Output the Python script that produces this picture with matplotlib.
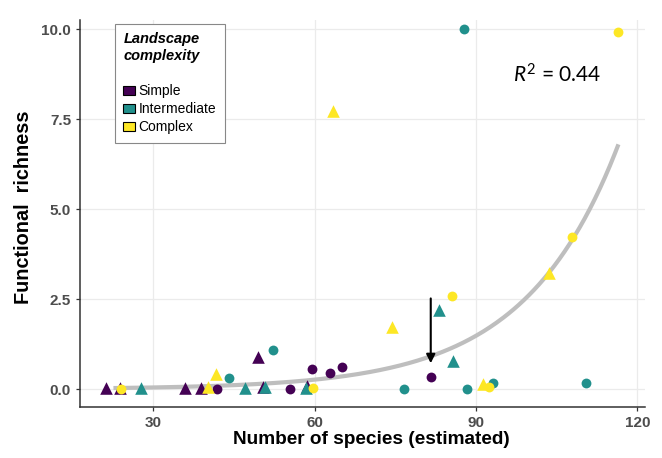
import numpy as np
import matplotlib
matplotlib.use("Agg")
import matplotlib.pyplot as plt
from matplotlib.patches import Patch

# =========================
# DATA
# =========================
simple_circle_x = [41.9, 55.4, 59.5, 62.9, 65.1, 81.6]
simple_circle_y = [0.00, 0.00, 0.57, 0.44, 0.62, 0.35]
simple_tri_x = [21.3, 23.9, 35.9, 38.9, 49.5, 50.5, 58.6]
simple_tri_y = [0.02, 0.02, 0.02, 0.02, 0.88, 0.05, 0.10]

inter_circle_x = [44.1, 52.3, 76.6, 88.3, 93.2, 110.4, 87.8]
inter_circle_y = [0.30, 1.10, 0.00, 0.00, 0.16, 0.16, 10.0]
inter_tri_x = [27.8, 47.1, 50.8, 58.4, 83.1, 85.8]
inter_tri_y = [0.02, 0.02, 0.05, 0.02, 2.20, 0.77]

complex_circle_x = [24.0, 59.7, 85.6, 92.4, 107.8, 116.4]
complex_circle_y = [0.00, 0.02, 2.58, 0.06, 4.24, 9.92]
complex_tri_x = [40.2, 41.7, 63.4, 74.4, 91.3, 103.6]
complex_tri_y = [0.05, 0.42, 7.73, 1.74, 0.13, 3.24]

# fitted exponential model y = a * exp(b * x)
fit_a = 0.00838
fit_b = 0.0575
fit_xmin, fit_xmax = 22.6, 116.5

arrow_x = 81.6
arrow_y_start = 2.52
arrow_y_end = 0.72

r2_text = "0.44"

colors = {"Simple": "#440154", "Intermediate": "#21908C", "Complex": "#FDE725"}

# =========================
# PLOT
# =========================
plt.rcParams['font.family'] = ['Liberation Sans', 'DejaVu Sans']
plt.rcParams['mathtext.fontset'] = 'custom'
plt.rcParams['mathtext.rm'] = 'Lato'
plt.rcParams['mathtext.it'] = 'Lato:italic'

fig = plt.figure(figsize=(6.62, 4.58), dpi=100)
ax = fig.add_axes([0.121, 0.111, 0.853, 0.845])

xs = np.linspace(fit_xmin, fit_xmax, 300)
ax.plot(xs, fit_a * np.exp(fit_b * xs), color="#BEBEBE", lw=3, zorder=2,
        solid_capstyle="butt")

groups = [
    ("Simple", simple_circle_x, simple_circle_y, simple_tri_x, simple_tri_y),
    ("Intermediate", inter_circle_x, inter_circle_y, inter_tri_x, inter_tri_y),
    ("Complex", complex_circle_x, complex_circle_y, complex_tri_x, complex_tri_y),
]
for name, cx, cy, tx, ty in groups:
    ax.scatter(cx, cy, s=50, marker="o", color=colors[name], lw=0, zorder=3)
    ax.scatter(tx, ty, s=82, marker="^", color=colors[name], lw=0, zorder=3)

ax.annotate("", xy=(arrow_x, arrow_y_end), xytext=(arrow_x, arrow_y_start),
            arrowprops=dict(arrowstyle="-|>", color="black", lw=1.5,
                            mutation_scale=13, shrinkA=0, shrinkB=0),
            zorder=4)

ax.text(105, 8.72, r"$R^2$ = " + r2_text, fontsize=15, family="Lato",
        ha="center", va="center")

ax.set_xlim(16.4, 121.4)
ax.set_ylim(-0.5, 10.25)
ax.set_xticks([30, 60, 90, 120])
ax.set_yticks([0, 2.5, 5, 7.5, 10])
ax.set_yticklabels(["0.0", "2.5", "5.0", "7.5", "10.0"])
ax.grid(color="#EBEBEB", lw=0.9)
ax.set_axisbelow(True)
for s in ["top", "right"]:
    ax.spines[s].set_visible(False)
for s in ["left", "bottom"]:
    ax.spines[s].set_color("#333333")
    ax.spines[s].set_linewidth(1.1)
ax.tick_params(axis="both", colors="#333333", labelcolor="#4D4D4D",
               labelsize=11, length=3, width=0.9)
for lab in ax.get_xticklabels() + ax.get_yticklabels():
    lab.set_fontweight("bold")

ax.set_xlabel("Number of species (estimated)", fontsize=13.7,
              fontweight="bold")
ax.set_ylabel("Functional  richness", fontsize=14.3, fontweight="bold")
ax.xaxis.set_label_coords(0.515, -0.062)
ax.yaxis.set_label_coords(-0.083, 0.517)

handles = [Patch(facecolor=colors[n], edgecolor="black", lw=0.8, label=n)
           for n in ["Simple", "Intermediate", "Complex"]]
leg = ax.legend(handles=handles, title="Landscape\ncomplexity\n",
                loc="upper left", bbox_to_anchor=(0.062, 0.99),
                borderaxespad=0,
                fontsize=10, handlelength=0.85, handleheight=0.6,
                handletextpad=0.25, labelspacing=0.3, borderpad=0.6,
                fancybox=False, edgecolor="#888888", framealpha=1)
leg.get_title().set_fontweight("bold")
leg.get_title().set_fontstyle("italic")
leg.get_title().set_fontsize(10.5)
leg.get_title().set_linespacing(1.25)
leg._legend_box.align = "left"
leg.get_frame().set_linewidth(0.8)

fig.savefig("out.png", dpi=100)
